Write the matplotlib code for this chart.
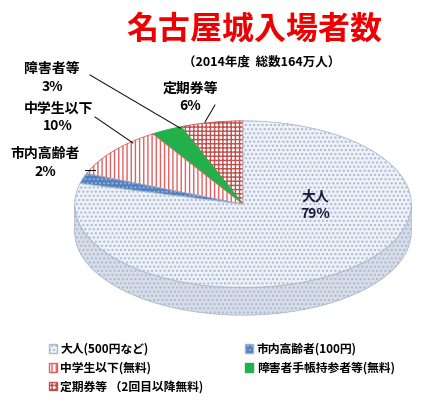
import numpy as np
import matplotlib.pyplot as plt
from matplotlib.patches import Patch, Polygon

plt.rcParams['font.family'] = ['Noto Sans CJK JP', 'DejaVu Sans']

labels = ["定期券等", "障害者等", "中学生以下", "市内高齢者", "大人"]
values = [6, 3, 10, 2, 79]
faces = ["white", "#22b04b", "white", "#4f81bd", "#eef2f8"]
edges = ["#c0504d", "#22b04b", "#e06060", "#9ab0d8", "#aab8d0"]
hatches = ["++++", None, "||||", "....", "...."]
legend_names = ["大人(500円など)", "中学生以下(無料)", "定期券等 （2回目以降無料)",
                "市内高齢者(100円)", "障害者手帳持参者等(無料)"]
legend_idx = [4, 2, 0, 3, 1]

W, H = 430, 408
fig = plt.figure(figsize=(W / 100, H / 100), dpi=100)
thick = 0.33
ax = fig.add_axes([73 / W, (408 - 316) / H, 340 / W, 196 / H])
wedges, _ = ax.pie(values, startangle=90, counterclock=True,
                   colors=faces, wedgeprops={"linewidth": 0.6})
for w, e, h in zip(wedges, edges, hatches):
    w.set_edgecolor(e)
    if h:
        w.set_hatch(h)
    w.set_zorder(3)

# pie side (front half)
for w, e, h in zip(wedges, edges, hatches):
    t1, t2 = w.theta1 % 360, w.theta2 % 360
    if t2 <= t1:
        t2 += 360
    lo, hi = max(t1, 180), min(t2, 360)
    if hi <= lo:
        continue
    t = np.radians(np.linspace(lo, hi, 100))
    pts = np.r_[np.c_[np.cos(t), np.sin(t)],
                np.c_[np.cos(t[::-1]), np.sin(t[::-1]) - thick]]
    ax.add_patch(Polygon(pts, facecolor="#d8dee8", edgecolor=e, hatch=h,
                         linewidth=0.6, zorder=2))
ax.set_aspect("auto")
ax.set_xlim(-1.01, 1.01)
ax.set_ylim(-1 - thick - 0.01, 1.01)
ax.axis("off")

fig.text(254 / W, 1 - 30 / H, "名古屋城入場者数", color="#ee0000", fontsize=23,
         fontweight="bold", ha="center", va="center")
fig.text(262 / W, 1 - 62 / H, "（2014年度  総数164万人）", fontsize=9,
         fontweight="bold", ha="center", va="center")

lab_pos = {"定期券等": (190, 97), "障害者等": (52, 78), "中学生以下": (58, 117),
           "市内高齢者": (45, 163), "大人": (315, 205)}
tips = {"定期券等": (205, 122), "障害者等": (180, 128), "中学生以下": (133, 143),
        "市内高齢者": (95, 170)}
starts = {"定期券等": (215, 105), "障害者等": (90, 75), "中学生以下": (95, 117),
          "市内高齢者": (85, 170)}
for lab, v in zip(labels, values):
    x, y = lab_pos[lab]
    fig.text(x / W, 1 - y / H, f"{lab}\n{v}%", fontsize=10, fontweight="bold",
             ha="center", va="center", linespacing=1.3,
             color="#1a1a3a" if lab == "大人" else "black")
    if lab in tips:
        sx, sy = starts[lab]
        tx, ty = tips[lab]
        fig.add_artist(plt.Line2D([sx / W, tx / W], [1 - sy / H, 1 - ty / H],
                                  color="black", linewidth=0.7))

handles = [Patch(facecolor=faces[i], edgecolor=edges[i], hatch=hatches[i])
           for i in legend_idx]
fig.legend(handles, legend_names, loc="upper left", bbox_to_anchor=(38 / W, 1 - 332 / H),
           ncol=2, frameon=False,
           prop={"weight": "bold", "size": 8.5, "family": ['Noto Sans CJK JP', 'DejaVu Sans']},
           handlelength=0.7, handleheight=0.7, handletextpad=0.3,
           columnspacing=3.5, labelspacing=0.5)

fig.savefig("out.png", dpi=100)
